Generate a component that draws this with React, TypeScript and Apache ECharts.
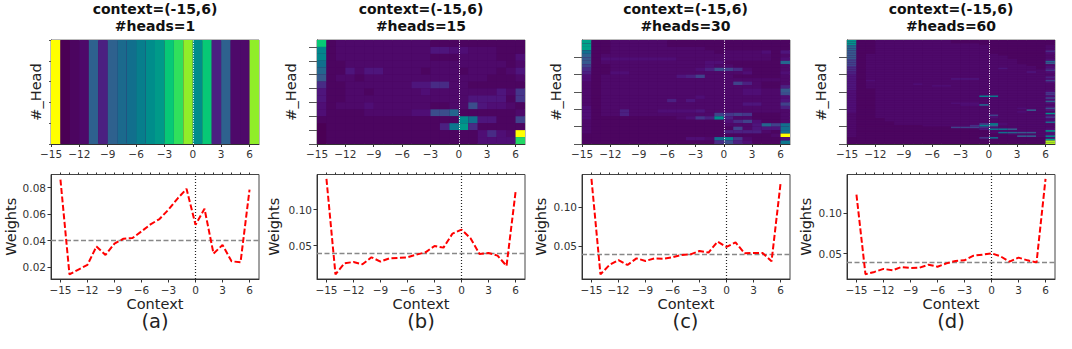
import React, { useEffect, useRef } from "react";
import * as echarts from "echarts";

const FONT = "DejaVu Sans";
const contextPositions = [-15,-14,-13,-12,-11,-10,-9,-8,-7,-6,-5,-4,-3,-2,-1,0,1,2,3,4,5,6];
const contextTicks = [-15,-12,-9,-6,-3,0,3,6];
const integerTicks = [-15,-14,-13,-12,-11,-10,-9,-8,-7,-6,-5,-4,-3,-2,-1,0,1,2,3,4,5,6];

const panelNames = ["(a)", "(b)", "(c)", "(d)"];
const panelTitles = [
  "context=(-15,6)\n#heads=1",
  "context=(-15,6)\n#heads=15",
  "context=(-15,6)\n#heads=30",
  "context=(-15,6)\n#heads=60",
];

// Line values
const weightsA = [0.086,0.0147,0.0183,0.0218,0.0357,0.0293,0.0378,0.0415,0.042,0.047,0.0523,0.0563,0.0634,0.0717,0.079,0.052,0.064,0.0303,0.0368,0.0245,0.0238,0.0785];
const weightsB = [0.1426,0.0102,0.0255,0.0273,0.0241,0.0338,0.0278,0.0324,0.0329,0.0338,0.0375,0.0407,0.0495,0.0472,0.0667,0.0722,0.0602,0.0384,0.0398,0.0361,0.0218,0.1241];
const weightsC = [0.1356,0.0144,0.0263,0.0326,0.0263,0.0347,0.0314,0.0347,0.0343,0.036,0.039,0.0398,0.0441,0.042,0.0559,0.0492,0.055,0.0411,0.0415,0.0415,0.0309,0.1297];
const weightsD = [0.1225,0.0248,0.0276,0.0313,0.0295,0.0336,0.0324,0.0328,0.0365,0.034,0.0381,0.041,0.0418,0.0475,0.0488,0.0504,0.0467,0.0402,0.0451,0.0418,0.0393,0.1418];
const meanWeights = [0.0415, 0.0366, 0.0398, 0.0398];
const weightRanges = [[0.0112,0.0898],[0.0037,0.1486],[0.0085,0.1411],[0.0189,0.1471]];
const weightTicks = [[0.02,0.04,0.06,0.08],[0.05,0.1],[0.05,0.1],[0.05,0.1]];

// Heat levels, top row first, base-36 level out of 35, groups: col -15 | -14..-8 | -7..-1 | 0..5 | 6
const heatA = ["z 012b5bd egikpsv ip5b22 v"];
const heatB = [
  "p 1222222 2222111 111111 1",
  "h 1222222 2222443 322211 1",
  "h 1222222 2222111 222211 3",
  "e 1122222 2222222 222221 2",
  "c 1142442 2221222 122212 4",
  "a 1221222 2222222 222111 2",
  "6 1122222 2244662 211111 1",
  "4 1122122 2223222 222242 7",
  "4 1122222 2222222 244441 7",
  "3 1222322 2222112 294332 1",
  "3 1111222 223399c 111111 2",
  "1 1111111 1111111 ie4411 8",
  "0 1111111 111115f k61111 1",
  "0 1111111 1111111 113632 z",
  "0 1111111 1111111 113333 r",
];
const heatC = [
  "l 1122222 2111111 111111 1",
  "l 1122222 2111111 111111 1",
  "l 1122222 2222211 111111 1",
  "e 1122222 2222221 222231 4",
  "b 1222222 2222222 222221 2",
  "a 1333333 3322222 222221 3",
  "a 1222222 2222233 111111 c",
  "8 1122222 2222232 211111 2",
  "6 1122222 2222359 862111 2",
  "5 1133222 2222222 223111 3",
  "3 1222222 2245822 211111 2",
  "3 1222222 2222222 222222 2",
  "2 1222222 2222222 285211 2",
  "2 1222222 2222222 222211 5",
  "2 1222222 2222222 223322 a",
  "2 1222222 2222222 223322 9",
  "2 1222222 2222322 222222 3",
  "2 1222222 2524222 222222 4",
  "2 1222222 2222222 224422 8",
  "3 1222222 2222222 222222 5",
  "3 1225222 3333422 222222 2",
  "3 1225222 2222228 787111 2",
  "3 1111111 112375i 522111 2",
  "2 1111111 1111111 368311 2",
  "2 1111111 1111111 2224c8 e",
  "2 1111111 1111111 182444 e",
  "2 1111111 1111111 555521 e",
  "1 1111111 1111111 111112 z",
  "1 1111111 111332e h72111 3",
  "1 1111111 1111116 953111 f",
];
const heatD = [
  "j 1122222 2221111 111111 1",
  "j 1122222 2221111 111111 1",
  "j 1122222 2222221 111111 1",
  "c 1122222 2222222 111111 2",
  "c 1122222 2222222 111111 2",
  "c 1122222 2222222 111111 2",
  "a 1122222 2222222 111111 6",
  "a 1122222 2222222 111111 3",
  "a 1222222 2222222 211111 2",
  "a 1222222 2222222 221111 2",
  "a 1222222 2222222 221111 2",
  "8 1222222 2222222 222111 3",
  "8 1222222 2222222 222111 c",
  "8 1222222 2222222 222111 a",
  "8 1222222 2222222 222211 2",
  "6 1222222 2222222 222221 3",
  "6 1222222 2222222 242221 4",
  "6 1222222 2222222 222222 7",
  "5 1222222 2222222 222242 3",
  "5 1222222 2222222 222222 2",
  "4 1222222 2222222 222222 2",
  "4 1222222 2222222 222222 5",
  "4 1222222 2224442 222222 3",
  "4 1322222 2222222 222222 8",
  "4 1222222 2222222 222222 3",
  "4 1222223 2222222 222222 2",
  "4 1222222 2332222 222222 2",
  "4 1222222 2222222 222222 2",
  "4 1122222 2222222 222222 2",
  "3 1122222 2222222 222222 3",
  "3 1122222 2222222 222222 7",
  "3 1122222 2222222 222222 7",
  "3 1122222 222222g f22222 3",
  "3 1122222 2222222 222222 8",
  "3 1122222 2222222 222222 3",
  "3 1122222 2222222 222222 b",
  "3 1122222 2223332 222222 3",
  "3 1122222 222233c 222222 2",
  "3 1122222 2222222 222222 3",
  "3 1122222 2222222 222322 9",
  "3 1122222 2222222 2222a2 4",
  "3 1122222 2222222 222322 2",
  "2 1122222 2222222 222222 j",
  "2 1122222 2222222 822222 3",
  "2 1122222 2222222 322222 7",
  "2 1112222 2222222 222222 3",
  "2 1112222 2222222 222222 3",
  "2 1111222 2222222 222222 d",
  "2 1111222 2222228 h32222 2",
  "2 1111111 222226g b22222 2",
  "2 1111111 1118886 322222 2",
  "2 1111111 1111114 eea222 3",
  "2 1111111 1111111 222222 j",
  "2 1111111 1111111 2ecaa2 3",
  "2 1111111 1111111 112222 3",
  "2 1111111 1111111 111aa2 g",
  "1 1111111 1111117 e11111 3",
  "1 1111111 1111111 111111 k",
  "1 1111111 1111111 111111 w",
  "1 1111111 1111111 111111 w",
];
const heatRowTicks = [[0,0.2,0.4,0.6,0.8,1],[0,2,4,6,8,10,12,14],[0,5,10,15,20,25],[0,10,20,30,40,50]];
const heatRanges = [1, 15, 30, 60];
const paletteStops = ["#4b0055","#50107a","#45368a","#335f8e","#116f8d","#008a8c","#00a188","#00c57a","#30e05c","#a0f020","#ffff00"];

const panelLefts = [51, 317, 582, 847];
const panelCenters = [155, 421, 685.5, 951];
const headNameGaps = [8, 19, 19, 19];
const weightNameGaps = [33, 36, 34, 34];
const headTickLengths = [2, 8, 8, 8];

function hexToRgb(h: string) {
  return [1, 3, 5].map((i) => parseInt(h.slice(i, i + 2), 16));
}
function colorOf(t: number) {
  const p = Math.max(0, Math.min(1, t)) * (paletteStops.length - 1);
  const i = Math.min(paletteStops.length - 2, Math.floor(p));
  const a = hexToRgb(paletteStops[i]);
  const b = hexToRgb(paletteStops[i + 1]);
  const f = p - i;
  return `rgb(${a.map((v, k) => Math.round(v + (b[k] - v) * f)).join(",")})`;
}
function cells(rows: string[]) {
  const out: number[][] = [];
  rows.forEach((row, r) => {
    row.replace(/ /g, "").split("").forEach((ch, c) => {
      out.push([contextPositions[c], rows.length - 1 - r, parseInt(ch, 36) / 35]);
    });
  });
  return out;
}
const minusFmt = (v: number) => String(v).replace("-", "\u2212");

export default function App() {
  const ref = useRef<HTMLDivElement>(null);
  useEffect(() => {
    const chart = echarts.init(ref.current!, undefined, { renderer: "svg" });
    const heats = [heatA, heatB, heatC, heatD];
    const weights = [weightsA, weightsB, weightsC, weightsD];
    const grids: any[] = [];
    const xAxes: any[] = [];
    const yAxes: any[] = [];
    const series: any[] = [];
    const titles: any[] = [];
    const axisColor = "#333";
    const labelStyle = { fontFamily: FONT, fontSize: 10.5, color: "#333" };
    const axisLine = { show: true, onZero: false, lineStyle: { color: axisColor } };

    panelLefts.forEach((left, p) => {
      const g1 = grids.length;
      grids.push({ left, width: 208, top: 40, height: 104, show: true, borderColor: "#777", borderWidth: 1, backgroundColor: "#4a0660" });
      const x1 = xAxes.length;
      xAxes.push({
        type: "value", gridIndex: g1, min: -15, max: 7, position: "bottom", splitLine: { show: false },
        axisLine,
        axisTick: { show: true, length: 3, customValues: contextTicks, lineStyle: { color: axisColor } },
        axisLabel: { show: true, customValues: contextTicks, formatter: minusFmt, margin: 4, ...labelStyle },
      });
      const y1 = yAxes.length;
      yAxes.push({
        type: "value", gridIndex: g1, min: 0, max: heatRanges[p], splitLine: { show: false },
        name: "#_Head", nameLocation: "middle", nameGap: headNameGaps[p], nameMoveOverlap: false,
        nameTextStyle: { fontFamily: FONT, fontSize: 14.5, color: "#222" },
        axisLine,
        axisTick: { show: true, length: headTickLengths[p], customValues: heatRowTicks[p], lineStyle: { color: "#555" } },
        axisLabel: { show: false },
      });
      series.push({
        type: "custom", xAxisIndex: x1, yAxisIndex: y1, coordinateSystem: "cartesian2d",
        data: cells(heats[p]), encode: { x: 0, y: 1 }, silent: true,
        renderItem: (_: any, api: any) => {
          const a = api.coord([api.value(0), api.value(1)]);
          const b = api.coord([api.value(0) + 1, api.value(1) + 1]);
          const fill = colorOf(api.value(2));
          return {
            type: "rect",
            shape: { x: a[0], y: b[1], width: b[0] - a[0], height: a[1] - b[1] },
            style: { fill },
          };
        },
        markLine: {
          silent: true, symbol: "none", animation: false, z: 5, label: { show: false },
          lineStyle: { color: "#fff", type: [1, 1.5], width: 1 },
          data: [{ xAxis: 0 }],
        },
      });

      const g2 = grids.length;
      grids.push({ left, width: 208, top: 174.5, height: 104.5, show: true, borderColor: "#444", borderWidth: 1, backgroundColor: "transparent" });
      const x2 = xAxes.length;
      xAxes.push({
        type: "value", gridIndex: g2, min: -16.05, max: 7.05, splitLine: { show: false },
        name: "Context", nameLocation: "middle", nameGap: 17, nameMoveOverlap: false,
        nameTextStyle: { fontFamily: FONT, fontSize: 14.5, color: "#222" },
        axisLine,
        axisTick: { show: true, length: 3.5, customValues: contextTicks, lineStyle: { color: axisColor } },
        axisLabel: { show: true, customValues: contextTicks, formatter: minusFmt, margin: 5, ...labelStyle },
      });
      xAxes.push({
        type: "value", gridIndex: g2, min: -16.05, max: 7.05, splitLine: { show: false },
        axisLine: { show: false, onZero: false },
        axisTick: { show: true, length: 2, customValues: integerTicks, lineStyle: { color: axisColor } },
        axisLabel: { show: false },
      });
      const y2 = yAxes.length;
      yAxes.push({
        type: "value", gridIndex: g2, min: weightRanges[p][0], max: weightRanges[p][1], splitLine: { show: false },
        name: "Weights", nameLocation: "middle", nameGap: weightNameGaps[p], nameMoveOverlap: false,
        nameTextStyle: { fontFamily: FONT, fontSize: 14.5, color: "#222" },
        axisLine,
        axisTick: { show: true, length: 3.5, customValues: weightTicks[p], lineStyle: { color: axisColor } },
        axisLabel: { show: true, customValues: weightTicks[p], formatter: (v: number) => v.toFixed(2), margin: 5, ...labelStyle },
      });
      series.push({
        type: "line", xAxisIndex: x2, yAxisIndex: y2, symbol: "none", silent: true,
        data: contextPositions.map((c, i) => [c, weights[p][i]]),
        lineStyle: { color: "#ff0000", width: 2, type: [6, 2.5] },
        z: 4,
        markLine: {
          silent: true, symbol: "none", animation: false, label: { show: false }, z: 3,
          data: [
            { yAxis: meanWeights[p], lineStyle: { color: "#888", type: [5, 2.5], width: 1.3 } },
            { xAxis: 0, lineStyle: { color: "#222", type: [1, 2], width: 1.2 } },
          ],
        },
      });

      titles.push({
        text: panelTitles[p], left: panelCenters[p], top: 0.5, padding: 0, textAlign: "center",
        textStyle: { fontFamily: FONT, fontWeight: "bold", fontSize: 14, lineHeight: 17, color: "#111" },
      });
      titles.push({
        text: panelNames[p], left: panelCenters[p], top: 311, padding: 0, textAlign: "center",
        textStyle: { fontFamily: FONT, fontWeight: "normal", fontSize: 19.5, color: "#222" },
      });
    });

    chart.setOption({
      animation: false, backgroundColor: "#fff",
      title: titles, grid: grids, xAxis: xAxes, yAxis: yAxes, series,
    });
    return () => chart.dispose();
  }, []);
  return <div ref={ref} style={{ position: "absolute", left: 0, top: 0, width: 1072, height: 349 }} />;
}
